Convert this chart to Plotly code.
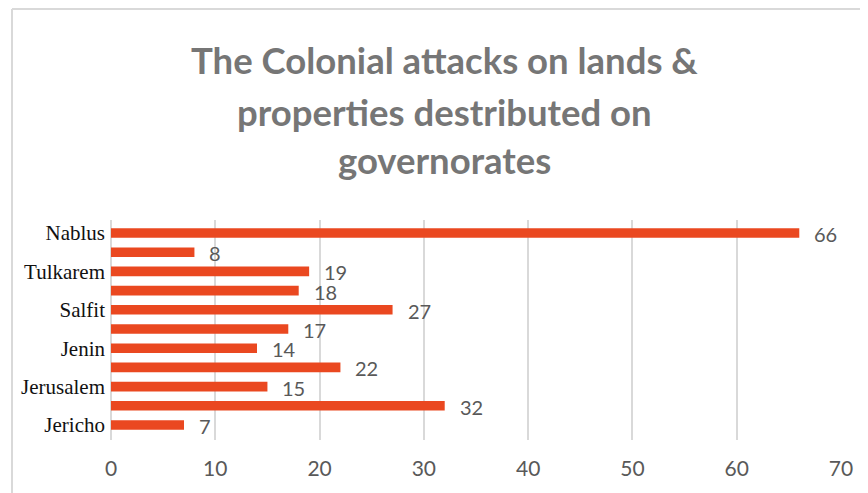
import plotly.graph_objects as go

# Data (bottom to top)
governorates = ["Jericho", "Hebron", "Jerusalem", "Bethlehem", "Jenin", "Ramallah",
                "Salfit", "Qalqilya", "Tulkarem", "Tubas", "Nablus"]
attacks = [7, 32, 15, 22, 14, 17, 27, 18, 19, 8, 66]
shown_labels = ["Jericho", "Jerusalem", "Jenin", "Salfit", "Tulkarem", "Nablus"]
x_ticks = [0, 10, 20, 30, 40, 50, 60, 70]
title_lines = ["The Colonial attacks on lands &", "properties destributed on", "governorates"]

BAR = "#ea4820"
GRAY = "#595959"

fig = go.Figure()
fig.add_trace(go.Bar(
    y=governorates, x=attacks, orientation="h",
    marker=dict(color=BAR, line=dict(width=0)),
    hoverinfo="x+y",
))

for g, v in zip(governorates, attacks):
    fig.add_annotation(x=v, y=g, text=str(v), showarrow=False, xanchor="left",
                       xshift=13, yshift=-1, font=dict(family="Lato", size=20, color=GRAY))

title_y = [1.727, 1.491, 1.273]
for t, yy in zip(title_lines, title_y):
    fig.add_annotation(x=0.4575, y=yy, xref="paper", yref="paper", text="<b>" + t + "</b>",
                       showarrow=False, xanchor="center", yanchor="middle",
                       font=dict(family="Lato", size=36.5, color="#767676"))

# chart frame lines (top and left)
fig.add_shape(type="line", xref="paper", yref="paper", x0=-0.1356, x1=1.1, y0=1.959, y1=1.959,
              line=dict(color="#d9d9d9", width=2))
fig.add_shape(type="line", xref="paper", yref="paper", x0=-0.1356, x1=-0.1356, y0=-0.3, y1=1.959,
              line=dict(color="#d9d9d9", width=2))

fig.update_layout(
    width=860, height=485,
    margin=dict(l=103, r=27, t=212, b=53),
    paper_bgcolor="white", plot_bgcolor="white",
    showlegend=False, bargap=0.5,
    xaxis=dict(range=[0, 70], tickvals=x_ticks, showgrid=True, gridcolor="#d9d9d9", gridwidth=1.5,
               zeroline=True, zerolinecolor="#d9d9d9", zerolinewidth=1.5, showline=False,
               ticks="", ticklabelstandoff=14,
               tickfont=dict(family="Lato", size=21, color=GRAY)),
    yaxis=dict(categoryorder="array", categoryarray=governorates,
               tickvals=shown_labels, ticktext=shown_labels,
               showgrid=False, ticks="", ticklabelstandoff=5, showline=False,
               tickfont=dict(family="Liberation Serif", size=21, color="#111111")),
)

fig.write_html("out.html")
